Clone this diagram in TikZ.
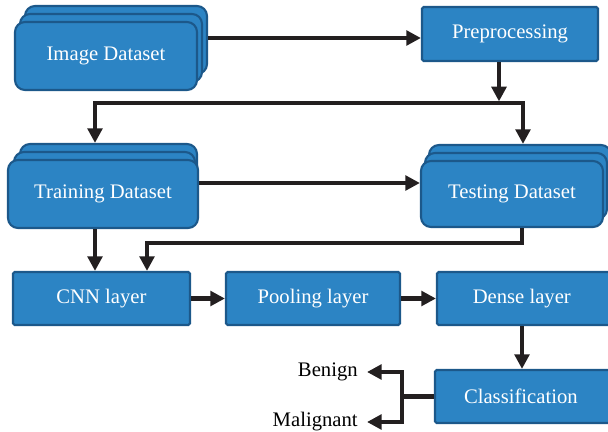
\documentclass[tikz,border=0pt]{standalone}
\usepackage{fontspec}
\setmainfont{Liberation Serif}
\usetikzlibrary{arrows.meta}
\definecolor{boxblue}{RGB}{44,132,196}
\definecolor{boxedge}{RGB}{28,88,138}
\definecolor{arrowc}{RGB}{35,31,32}
\tikzset{
  x=0.75pt, y=-0.75pt,
  stackbox/.style={draw=boxedge, fill=boxblue, line width=1.6pt, rounded corners=7.5pt,
    text=white, font=\fontsize{15.5}{18}\selectfont, inner sep=0pt},
  flatbox/.style={draw=boxedge, fill=boxblue, line width=1.6pt, rounded corners=1.2pt,
    text=white, font=\fontsize{15.5}{18}\selectfont, inner sep=0pt},
  arr/.style={draw=arrowc, line width=3.3pt, -{Triangle[length=11pt,width=11pt]}},
  ln/.style={draw=arrowc, line width=3.3pt},
  lbl/.style={font=\fontsize{15.5}{18}\selectfont, text=black, inner ysep=0pt, inner xsep=6.8pt},
}
\begin{document}
\begin{tikzpicture}
\useasboundingbox (0,0) rectangle (608,432);
% Image Dataset stack
\node[stackbox, minimum width=182*0.75pt, minimum height=68*0.75pt] (imgB) at (116,40) {};
\node[stackbox, minimum width=182*0.75pt, minimum height=68*0.75pt] (imgM) at (111,48) {};
\node[stackbox, minimum width=182*0.75pt, minimum height=68*0.75pt] (img) at (106,56) {\raisebox{2pt}{Image Dataset}};
% Preprocessing
\node[flatbox, minimum width=176*0.75pt, minimum height=54*0.75pt] (pre) at (510,34) {Preprocessing};
% Training Dataset stack
\node[stackbox, minimum width=177*0.75pt, minimum height=68*0.75pt] (trB) at (108.5,178) {};
\node[stackbox, minimum width=181*0.75pt, minimum height=68*0.75pt] (trM) at (104.5,186) {};
\node[stackbox, minimum width=190*0.75pt, minimum height=68*0.75pt] (tr) at (103,194) {\raisebox{2pt}{Training Dataset}};
% Testing Dataset stack
\node[stackbox, minimum width=182*0.75pt, minimum height=66*0.75pt] (teB) at (520,178) {};
\node[stackbox, minimum width=182*0.75pt, minimum height=66*0.75pt] (teM) at (516,186) {};
\node[stackbox, minimum width=182*0.75pt, minimum height=66*0.75pt] (te) at (512,194) {\raisebox{2pt}{Testing Dataset}};
% Layers
\node[flatbox, minimum width=177*0.75pt, minimum height=53*0.75pt] (cnn) at (101.5,298.5) {CNN layer};
\node[flatbox, minimum width=174*0.75pt, minimum height=53*0.75pt] (pool) at (313,298.5) {Pooling layer};
\node[flatbox, minimum width=175*0.75pt, minimum height=53*0.75pt] (dense) at (524.5,298.5) {\hspace*{-4pt}Dense layer};
\node[flatbox, minimum width=177*0.75pt, minimum height=53*0.75pt] (cls) at (523.5,396.5) {\hspace*{-4pt}Classification};
% Labels
\node[lbl, anchor=east] (ben) at (367,372) {Benign};
\node[lbl, anchor=east] (mal) at (367,422) {Malignant};
% Junction coordinates
\coordinate (barJ) at (499,103);
\coordinate (barL) at (95,103);
\coordinate (barR) at (523,103);
\coordinate (j1) at (522,243);
\coordinate (j2) at (147,243);
\coordinate (br) at (402,396.5);
% Connectors
\draw[arr] (imgB.east |- 0,38) -- (pre.west |- 0,38);
\draw[arr] (barJ |- pre.south) -- ([yshift=1.2pt]barJ);
\draw[ln] ([xshift=-1.2pt]barL) -- ([xshift=1.2pt]barR);
\draw[arr] (barL) -- (barL |- trB.north);
\draw[arr] (barR) -- (barR |- teB.north);
\draw[arr] (tr.east |- 0,183) -- (te.west |- 0,183);
\draw[arr, line join=miter] (j1 |- te.south) -- (j1) -- (j2) -- (j2 |- cnn.north);
\draw[arr] (barL |- tr.south) -- (barL |- cnn.north);
\draw[arr] (cnn.east) -- (pool.west);
\draw[arr] (pool.east) -- (dense.west);
\draw[arr] (j1 |- dense.south) -- (j1 |- cls.north);
\draw[ln] (cls.west) -- (br);
\draw[arr, line join=miter] (br) -- (br |- ben.east) -- (ben.east);
\draw[arr, line join=miter] (br) -- (br |- mal.east) -- (mal.east);
\end{tikzpicture}
\end{document}
